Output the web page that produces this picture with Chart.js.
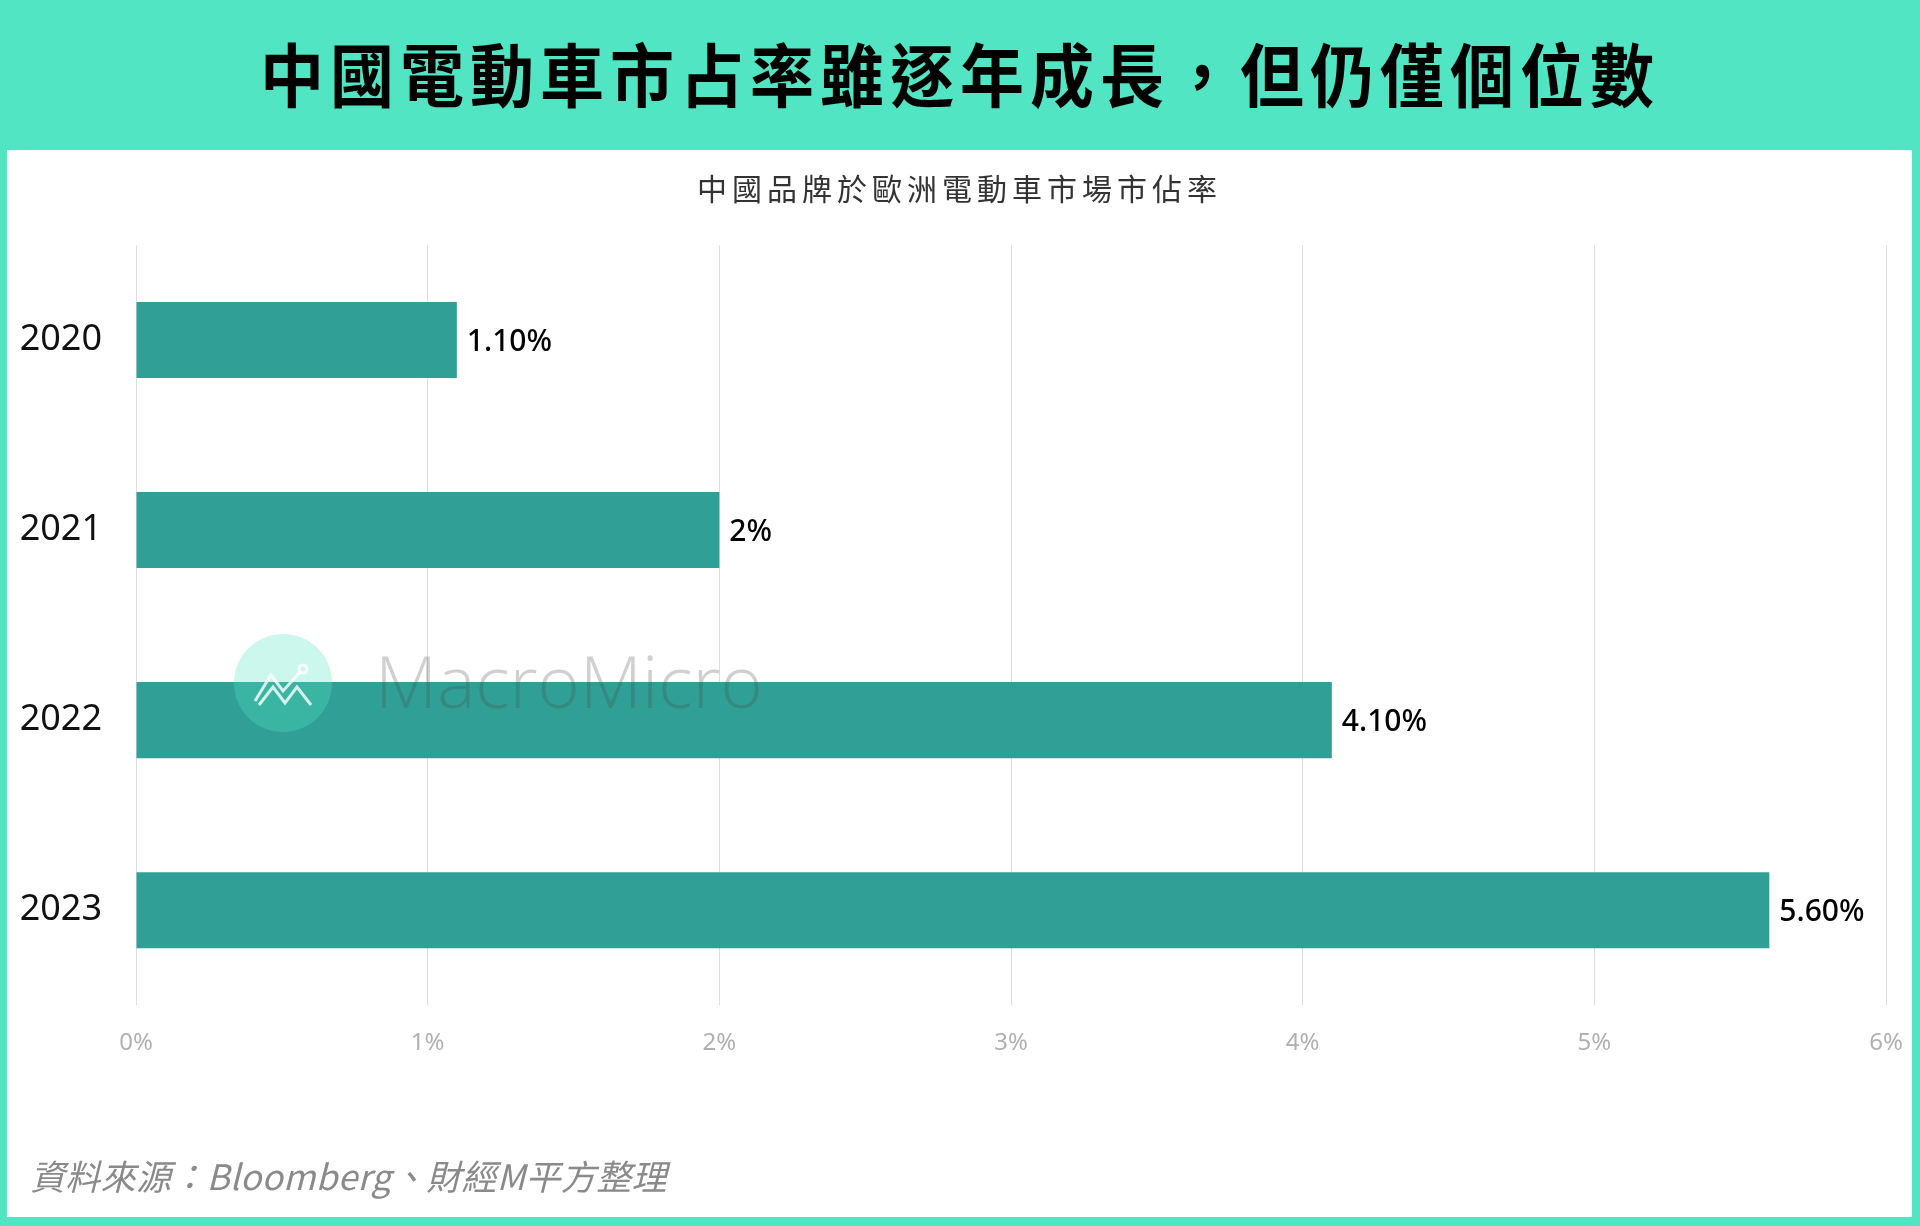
<!DOCTYPE html>
<html>
<head>
<meta charset="utf-8">
<script src="https://cdn.jsdelivr.net/npm/chart.js@4"></script>
<style>
  html, body { margin: 0; padding: 0; }
  body { width: 1920px; height: 1226px; background: #52e5c3; position: relative; overflow: hidden;
         font-family: "Noto Sans", "Noto Sans CJK TC", sans-serif; }
  #title { position: absolute; left: 0; top: -5px; width: 1920px; height: 150px; line-height: 154px;
           text-align: center; font-family: "Noto Sans CJK TC", sans-serif; font-weight: 700;
           font-size: 64px; color: #000; letter-spacing: 6px; transform: scaleY(1.08); }
  #panel { position: absolute; left: 7px; top: 150px; width: 1905px; height: 1067px; background: #fff; }
  #chartWrap { position: absolute; left: 0; top: 0; width: 1905px; height: 1067px; }
  #subtitle { position: absolute; left: 0; top: 15px; width: 1905px; text-align: center;
              font-family: "Noto Sans CJK TC", sans-serif; font-size: 30px; letter-spacing: 5px; color: #333; }
  #source { position: absolute; left: 23px; top: 999px; font-family: "Noto Sans CJK TC", sans-serif;
            font-style: italic; font-size: 35px; color: #8a8a8a; letter-spacing: 0.3px; }
</style>
</head>
<body>
<div id="title">中國電動車市占率雖逐年成長，但仍僅個位數</div>
<div id="panel">
  <div id="chartWrap"><canvas id="shareChart" width="1905" height="1067"></canvas></div>
  <div id="subtitle">中國品牌於歐洲電動車市場市佔率</div>
  <div id="source">資料來源：Bloomberg、財經M平方整理</div>
</div>
<script>
// data
const years = ["2020", "2021", "2022", "2023"];
const shares = [1.1, 2.0, 4.1, 5.6];
const shareLabels = ["1.10%", "2%", "4.10%", "5.60%"];
const xTicks = [0, 1, 2, 3, 4, 5, 6];

const ctx = document.getElementById("shareChart").getContext("2d");

// value labels at the end of each bar
const barLabels = {
  id: "barLabels",
  afterDatasetsDraw(chart) {
    const c = chart.ctx;
    const meta = chart.getDatasetMeta(0);
    c.save();
    c.font = "500 30px 'Noto Sans', sans-serif";
    c.fillStyle = "#000";
    c.textAlign = "left";
    c.textBaseline = "middle";
    meta.data.forEach((bar, i) => {
      c.fillText(shareLabels[i], bar.x + 10, bar.y + 2);
    });
    c.restore();
  }
};

// MacroMicro watermark
const watermark = {
  id: "watermark",
  afterDraw(chart) {
    const c = chart.ctx;
    const cx = 276, cy = 533, r = 49;
    c.save();
    c.globalAlpha = 0.3;
    c.fillStyle = "#52e5c3";
    c.beginPath();
    c.arc(cx, cy, r, 0, Math.PI * 2);
    c.fill();
    c.globalAlpha = 0.8;
    c.strokeStyle = "#fff";
    c.lineWidth = 3;
    c.beginPath();
    c.moveTo(cx - 28, cy + 18);
    c.lineTo(cx - 12, cy - 8);
    c.lineTo(cx, cy + 8);
    c.lineTo(cx + 18, cy - 12);
    c.stroke();
    c.beginPath();
    c.moveTo(cx - 24, cy + 22);
    c.lineTo(cx - 10, cy + 4);
    c.lineTo(cx + 2, cy + 20);
    c.lineTo(cx + 14, cy + 4);
    c.lineTo(cx + 28, cy + 22);
    c.stroke();
    c.beginPath();
    c.arc(cx + 20, cy - 14, 4, 0, Math.PI * 2);
    c.stroke();
    c.globalAlpha = 0.25;
    c.fillStyle = "#444";
    c.font = "300 72px 'Open Sans', 'Noto Sans', sans-serif";
    c.textAlign = "left";
    c.textBaseline = "middle";
    c.fillText("MacroMicro", 368, cy + 4);
    c.restore();
  }
};

new Chart(ctx, {
  type: "bar",
  data: {
    labels: years,
    datasets: [
      {
        label: "中國品牌於歐洲電動車市場市佔率",
        data: shares,
        backgroundColor: "#30a096",
        borderWidth: 0,
        barPercentage: 0.4,
        categoryPercentage: 1.0,
      },
    ],
  },
  options: {
    indexAxis: "y",
    responsive: false,
    animation: false,
    layout: { padding: { top: 95, right: 26, bottom: 135, left: 0 } },
    plugins: {
      legend: { display: false },
      tooltip: { enabled: false },
      title: { display: false },
    },
    scales: {
      x: {
        min: 0,
        max: 6,
        afterBuildTicks(scale) {
          scale.ticks = xTicks.map((v) => ({ value: v }));
        },
        afterFit(scale) {
          scale.paddingRight = 0;
          scale.paddingLeft = 0;
        },
        border: { display: false },
        grid: { color: "#dedede", lineWidth: 1, drawTicks: false },
        ticks: {
          padding: 24,
          color: "#b0b0b0",
          font: { family: "'Noto Sans', sans-serif", size: 24 },
          callback: (v) => v + "%",
        },
      },
      y: {
        afterFit(scale) { scale.width = 129; },
        border: { display: false },
        grid: { display: false, drawTicks: false },
        ticks: {
          padding: 34,
          color: "#111",
          font: { family: "'Noto Sans', sans-serif", size: 36 },
        },
      },
    },
  },
  plugins: [barLabels, watermark],
});
</script>
</body>
</html>
